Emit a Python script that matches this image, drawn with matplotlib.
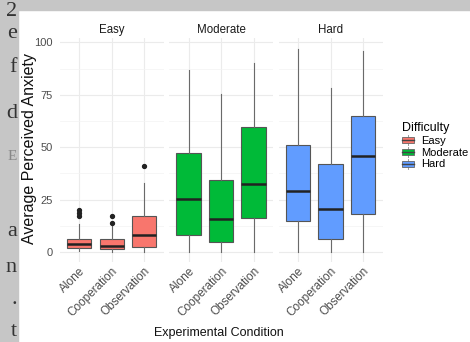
import matplotlib.pyplot as plt
from matplotlib.patches import Rectangle, Patch
from matplotlib.lines import Line2D
from matplotlib.legend_handler import HandlerBase

# data (box-plot summaries per panel)
conditions = ['Alone', 'Cooperation', 'Observation']
difficulties = ['Easy', 'Moderate', 'Hard']
fill_colors = ['#F8766D', '#00BA38', '#619CFF']

easy_q1 = [1.8, 1.3, 2.6]
easy_med = [3.8, 2.9, 8.1]
easy_q3 = [6.2, 6.0, 17.2]
easy_lo = [0.3, 0.0, 0.0]
easy_hi = [13.2, 12.5, 32.8]
easy_fliers = [[17.3, 18.8, 20.0], [14.0, 17.2], [41.0]]

moderate_q1 = [8.0, 4.9, 16.1]
moderate_med = [25.3, 15.9, 32.5]
moderate_q3 = [47.4, 34.4, 59.8]
moderate_lo = [0.0, 0.0, 0.0]
moderate_hi = [86.9, 75.5, 90.0]
moderate_fliers = [[], [], []]

hard_q1 = [15.0, 6.0, 18.1]
hard_med = [29.0, 20.7, 46.0]
hard_q3 = [50.9, 41.8, 64.8]
hard_lo = [0.0, 0.0, 0.0]
hard_hi = [96.9, 78.4, 96.0]
hard_fliers = [[], [], []]

panels = [
    (easy_q1, easy_med, easy_q3, easy_lo, easy_hi, easy_fliers),
    (moderate_q1, moderate_med, moderate_q3, moderate_lo, moderate_hi, moderate_fliers),
    (hard_q1, hard_med, hard_q3, hard_lo, hard_hi, hard_fliers),
]

# scraps of the page behind the screenshot
margin_chars = ['2', 'e', 'f', 'd', 'E', 'a', 'n', '.', 't']
margin_rows = [11, 33, 67, 113, 157, 232, 268, 300, 332]

plt.rcParams['font.family'] = ['Liberation Sans', 'DejaVu Sans']

W, H = 470, 342
fig = plt.figure(figsize=(W / 100, H / 100), dpi=100)

# gray page background around the chart
strip = Rectangle((0, 0), 18 / W, 1, transform=fig.transFigure, color='#c6c6c6', zorder=-5)
band = Rectangle((0, 1 - 10 / H), 1, 10 / H, transform=fig.transFigure, color='#c6c6c6', zorder=-5)
fig.patches.extend([strip, band])
for ch, row in zip(margin_chars, margin_rows):
    small = ch == 'E'
    t = fig.text(17 / W, 1 - row / H, ch, ha='right', va='center',
                 fontsize=11 if small else 16, family='Liberation Serif',
                 color='#888888' if small else '#333333')
    t.set_clip_path(strip)

lefts = [59.8, 169.0, 278.5]
for i, (q1, med, q3, lo, hi, fl) in enumerate(panels):
    ax = fig.add_axes([lefts[i] / W, 0.2325, 104 / W, 0.6556])
    stats = [dict(q1=q1[j], med=med[j], q3=q3[j], whislo=lo[j], whishi=hi[j],
                  fliers=fl[j]) for j in range(3)]
    ax.bxp(stats, positions=[1, 2, 3], widths=0.75, patch_artist=True, showcaps=False,
           boxprops=dict(facecolor=fill_colors[i], edgecolor='#555555', linewidth=0.8),
           medianprops=dict(color='#222222', linewidth=1.8),
           whiskerprops=dict(color='#6a6a6a', linewidth=0.8),
           flierprops=dict(marker='o', markersize=2.8, markerfacecolor='#222222',
                           markeredgecolor='#222222'))
    ax.set_xlim(0.4, 3.6)
    ax.set_ylim(-5, 102)
    ax.set_yticks([0, 25, 50, 75, 100])
    ax.set_yticks([12.5, 37.5, 62.5, 87.5], minor=True)
    ax.set_xticks([1, 2, 3])
    ax.set_xticklabels(conditions, rotation=45, ha='right', va='top',
                       rotation_mode='anchor', color='#4D4D4D', fontsize=8.5)
    ax.grid(which='major', color='#EBEBEB', linewidth=0.8)
    ax.grid(which='minor', axis='y', color='#F3F3F3', linewidth=0.5)
    ax.set_axisbelow(True)
    for s in ax.spines.values():
        s.set_visible(False)
    ax.tick_params(which='both', length=0, pad=2)
    ax.tick_params(axis='y', labelsize=8, labelcolor='#4D4D4D', pad=5)
    if i > 0:
        ax.tick_params(axis='y', labelleft=False)
    ax.set_title(difficulties[i], fontsize=8.3, color='#1A1A1A', pad=4)

fig.text(30 / W, 1 - 149 / H, 'Average Perceived Anxiety', rotation=90,
         ha='center', va='center', fontsize=11.5, color='#111111')
fig.text(219 / W, 1 - 333 / H, 'Experimental Condition', ha='center', va='center',
         fontsize=9, color='#111111')


class BoxKey(HandlerBase):
    # small ggplot-style box key: whisker, box, median
    def create_artists(self, legend, orig_handle, xdescent, ydescent,
                       width, height, fontsize, trans):
        x0, y0 = -xdescent, -ydescent
        cx = x0 + width / 2
        fc = orig_handle.get_facecolor()
        whisk = Line2D([cx, cx], [y0, y0 + height], color='#888888', lw=0.6, transform=trans)
        box = Rectangle((x0, y0 + 0.2 * height), width, 0.6 * height, facecolor=fc,
                        edgecolor='#666666', lw=0.6, transform=trans)
        mid = Line2D([x0, x0 + width], [y0 + height / 2] * 2, color='#444444', lw=1.0,
                     transform=trans)
        return [whisk, box, mid]


handles = [Patch(facecolor=c, label=d) for c, d in zip(fill_colors, difficulties)]
fig.legend(handles=handles, loc='upper left', bbox_to_anchor=(394 / W, 1 - 114 / H),
           frameon=False, title='Difficulty', title_fontsize=9, fontsize=8,
           alignment='left', handler_map={Patch: BoxKey()}, handlelength=1.1,
           handleheight=1.0, handletextpad=0.6, labelspacing=0.1, borderpad=0.2)

fig.savefig('out.png', dpi=100)
